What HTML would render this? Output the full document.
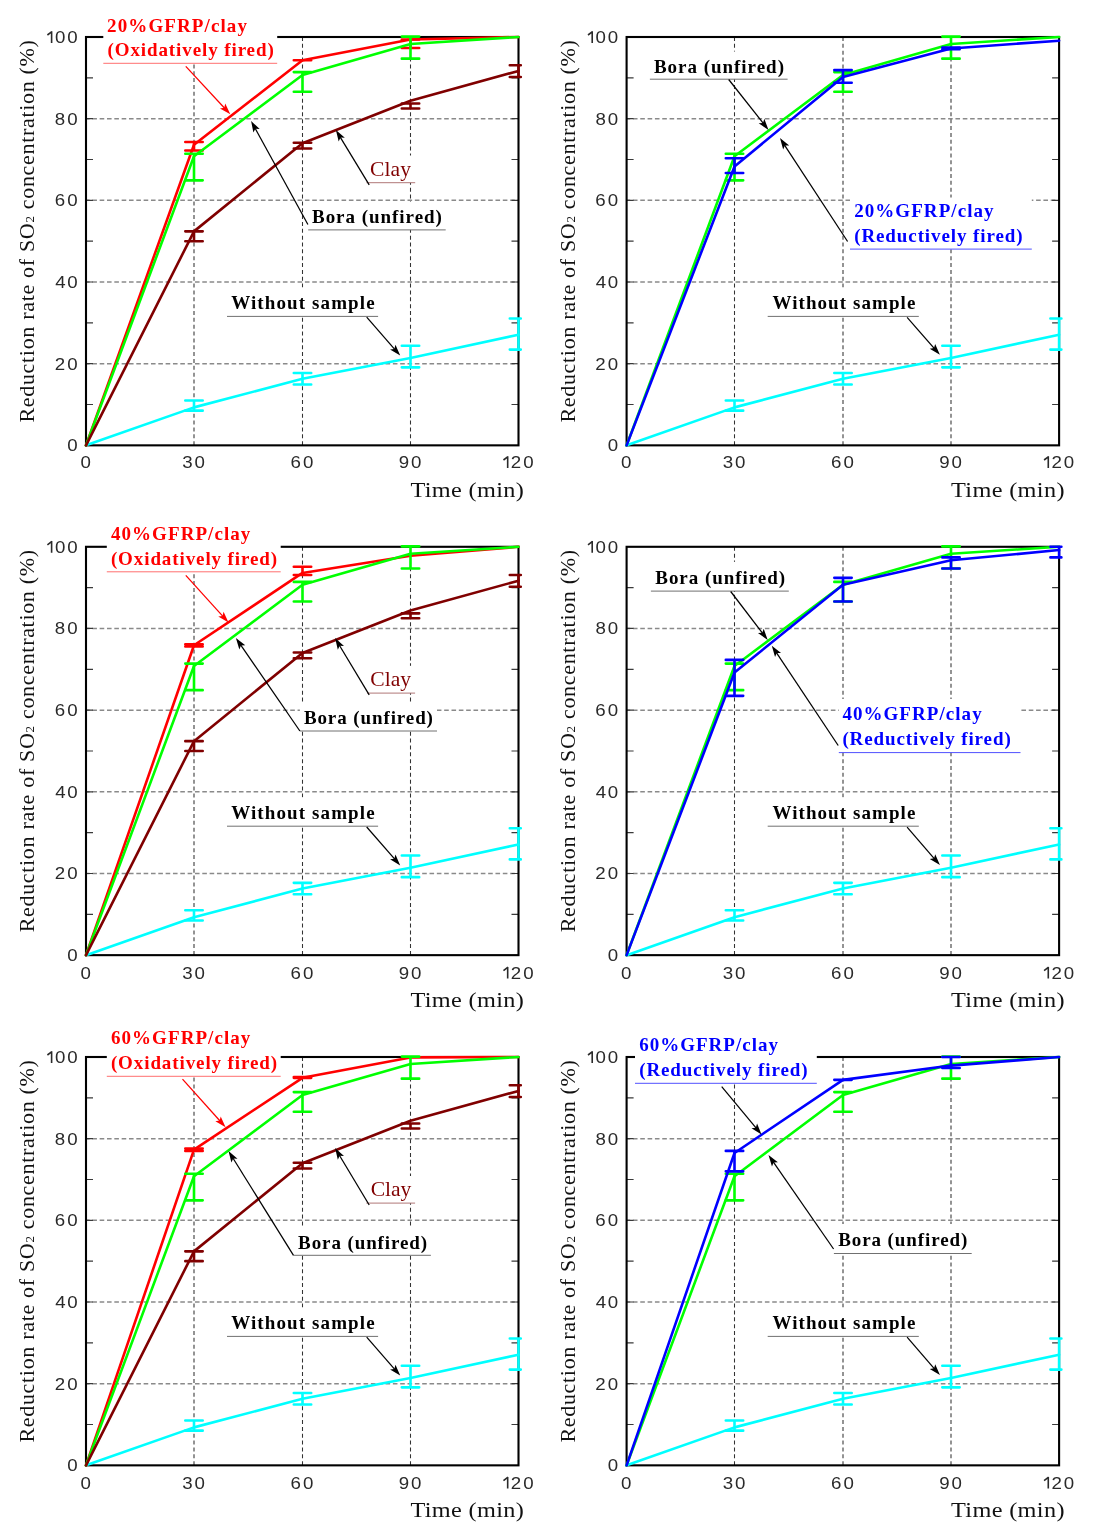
<!DOCTYPE html><html><head><meta charset="utf-8"><title>SO2 reduction</title><style>html,body{margin:0;padding:0;background:#fff;overflow:hidden;}svg{display:block;filter:blur(0.4px);}</style></head><body>
<svg width="1097" height="1532" viewBox="0 0 1097 1532">
<rect width="1097" height="1532" fill="#fff"/>
<line x1="86" y1="363.68" x2="518.5" y2="363.68" stroke="#8a8a8a" stroke-width="1.5" stroke-dasharray="4.6 2.73" stroke-dashoffset="1"/><line x1="86" y1="282.01" x2="518.5" y2="282.01" stroke="#8a8a8a" stroke-width="1.5" stroke-dasharray="4.6 2.73" stroke-dashoffset="1"/><line x1="86" y1="200.34" x2="518.5" y2="200.34" stroke="#8a8a8a" stroke-width="1.5" stroke-dasharray="4.6 2.73" stroke-dashoffset="1"/><line x1="86" y1="118.67" x2="518.5" y2="118.67" stroke="#8a8a8a" stroke-width="1.5" stroke-dasharray="4.6 2.73" stroke-dashoffset="1"/><line x1="194" y1="37" x2="194" y2="445.35" stroke="#333" stroke-width="1.05" stroke-dasharray="4.0 2.85"/><line x1="302.5" y1="37" x2="302.5" y2="445.35" stroke="#333" stroke-width="1.05" stroke-dasharray="4.0 2.85"/><line x1="410.5" y1="37" x2="410.5" y2="445.35" stroke="#333" stroke-width="1.05" stroke-dasharray="4.0 2.85"/>
<path d="M86 404.52h7M518.5 404.52h-7M86 363.68h7M518.5 363.68h-7M86 322.85h7M518.5 322.85h-7M86 282.01h7M518.5 282.01h-7M86 241.18h7M518.5 241.18h-7M86 200.34h7M518.5 200.34h-7M86 159.51h7M518.5 159.51h-7M86 118.67h7M518.5 118.67h-7M86 77.84h7M518.5 77.84h-7" stroke="#3a3a3a" stroke-width="1.2" fill="none"/>
<rect x="86" y="37" width="432.5" height="408.35" fill="none" stroke="#000" stroke-width="2.1"/>
<text transform="translate(67.13 451.35) scale(1.1 1)" font-family="Liberation Sans" font-size="17.0" fill="#2a2a2a">0</text>
<text transform="translate(54.72 369.68) scale(1.1 1)" font-family="Liberation Sans" font-size="17.0" fill="#2a2a2a">2</text><text transform="translate(67.13 369.68) scale(1.1 1)" font-family="Liberation Sans" font-size="17.0" fill="#2a2a2a">0</text>
<text transform="translate(55.23 288.01) scale(1.1 1)" font-family="Liberation Sans" font-size="17.0" fill="#2a2a2a">4</text><text transform="translate(67.13 288.01) scale(1.1 1)" font-family="Liberation Sans" font-size="17.0" fill="#2a2a2a">0</text>
<text transform="translate(54.71 206.34) scale(1.1 1)" font-family="Liberation Sans" font-size="17.0" fill="#2a2a2a">6</text><text transform="translate(67.13 206.34) scale(1.1 1)" font-family="Liberation Sans" font-size="17.0" fill="#2a2a2a">0</text>
<text transform="translate(54.85 124.67) scale(1.1 1)" font-family="Liberation Sans" font-size="17.0" fill="#2a2a2a">8</text><text transform="translate(67.13 124.67) scale(1.1 1)" font-family="Liberation Sans" font-size="17.0" fill="#2a2a2a">0</text>
<path d="M51.61 31.3V43M51.91 31.6L47.41 35" stroke="#2a2a2a" stroke-width="1.6" fill="none"/><text transform="translate(54.93 43) scale(1.1 1)" font-family="Liberation Sans" font-size="17.0" fill="#2a2a2a">0</text><text transform="translate(67.13 43) scale(1.1 1)" font-family="Liberation Sans" font-size="17.0" fill="#2a2a2a">0</text>
<text transform="translate(80.4 468) scale(1.1 1)" font-family="Liberation Sans" font-size="17.0" fill="#2a2a2a">0</text>
<text transform="translate(182.32 468) scale(1.1 1)" font-family="Liberation Sans" font-size="17.0" fill="#2a2a2a">3</text><text transform="translate(194.5 468) scale(1.1 1)" font-family="Liberation Sans" font-size="17.0" fill="#2a2a2a">0</text>
<text transform="translate(290.58 468) scale(1.1 1)" font-family="Liberation Sans" font-size="17.0" fill="#2a2a2a">6</text><text transform="translate(303 468) scale(1.1 1)" font-family="Liberation Sans" font-size="17.0" fill="#2a2a2a">0</text>
<text transform="translate(398.65 468) scale(1.1 1)" font-family="Liberation Sans" font-size="17.0" fill="#2a2a2a">9</text><text transform="translate(411 468) scale(1.1 1)" font-family="Liberation Sans" font-size="17.0" fill="#2a2a2a">0</text>
<path d="M507.68 456.3V468M507.98 456.6L503.48 460" stroke="#2a2a2a" stroke-width="1.6" fill="none"/><text transform="translate(510.79 468) scale(1.1 1)" font-family="Liberation Sans" font-size="17.0" fill="#2a2a2a">2</text><text transform="translate(523.2 468) scale(1.1 1)" font-family="Liberation Sans" font-size="17.0" fill="#2a2a2a">0</text>
<text transform="translate(410.4 496.6) scale(1.12 1)" font-family="Liberation Serif" font-size="21.7" letter-spacing="0.31" fill="#111">Time (min)</text>
<text transform="translate(34 231) rotate(-90)" text-anchor="middle" font-family="Liberation Serif" font-size="22" letter-spacing="0.68" fill="#111">Reduction rate of SO<tspan font-size="13">2</tspan> concentration (%)</text>
<rect x="103.3" y="10" width="173.9" height="53.3" fill="#fff"/>
<rect x="366.5" y="155.5" width="48.7" height="27.2" fill="#fff"/>
<rect x="308.2" y="202" width="137.5" height="27.9" fill="#fff"/>
<rect x="227" y="287.5" width="151.1" height="28.9" fill="#fff"/>
<path d="M185.3 400.43H202.7M185.3 410.64H202.7M194 400.43V410.64M293.8 373.07H311.2M293.8 384.51H311.2M302.5 373.07V384.51M401.8 345.71H419.2M401.8 367.36H419.2M410.5 345.71V367.36M509.8 318.52H520.8M509.8 349.59H520.8M518.5 318.52V349.59" stroke="#00ffff" stroke-width="2.6" stroke-linecap="round" fill="none"/>
<polyline points="86,445.35 194,407.37 302.5,378.79 410.5,357.96 518.5,334.69" stroke="#00ffff" stroke-width="2.6" fill="none" stroke-linejoin="round" stroke-linecap="round"/>
<path d="M185.3 141.95H202.7M185.3 150.52H202.7M194 141.95V150.52M293.8 60.28H311.2M293.8 60.28H311.2M302.5 60.28V60.28M401.8 39.45H419.2M401.8 48.03H419.2M410.5 39.45V48.03" stroke="#ff0000" stroke-width="2.6" stroke-linecap="round" fill="none"/>
<polyline points="86,445.35 194,144.8 302.5,60.28 410.5,39.45 518.5,37" stroke="#ff0000" stroke-width="2.6" fill="none" stroke-linejoin="round" stroke-linecap="round"/>
<path d="M185.3 153.79H202.7M185.3 180.33H202.7M194 153.79V180.33M293.8 72.12H311.2M293.8 91.72H311.2M302.5 72.12V91.72M401.8 36.59H419.2M401.8 58.64H419.2M410.5 36.59V58.64" stroke="#00ff00" stroke-width="2.6" stroke-linecap="round" fill="none"/>
<polyline points="86,445.35 194,156.24 302.5,74.98 410.5,43.94 518.5,37" stroke="#00ff00" stroke-width="2.6" fill="none" stroke-linejoin="round" stroke-linecap="round"/>
<path d="M185.3 231.37H202.7M185.3 241.18H202.7M194 231.37V241.18M293.8 142.76H311.2M293.8 148.48H311.2M302.5 142.76V148.48M401.8 103.56H419.2M401.8 108.46H419.2M410.5 103.56V108.46M509.8 65.18H520.8M509.8 77.02H520.8M518.5 65.18V77.02" stroke="#800000" stroke-width="2.6" stroke-linecap="round" fill="none"/>
<polyline points="86,445.35 194,231.37 302.5,143.17 410.5,100.7 518.5,70.89" stroke="#800000" stroke-width="2.6" fill="none" stroke-linejoin="round" stroke-linecap="round"/>
<text x="107.1" y="31.6" font-family="Liberation Serif" font-weight="bold" font-size="19" letter-spacing="1.1" fill="#ff0000">20%GFRP/clay</text>
<text x="107.5" y="56.4" font-family="Liberation Serif" font-weight="bold" font-size="19" letter-spacing="0.9" fill="#ff0000">(Oxidatively fired)</text>
<line x1="103.3" y1="63.3" x2="277.2" y2="63.3" stroke="#ff7070" stroke-width="1"/>
<text transform="translate(370.1 175.8) scale(1.08 1)" font-family="Liberation Serif" font-size="20" letter-spacing="0.06" fill="#800000">Clay</text>
<line x1="366.5" y1="182.7" x2="415.2" y2="182.7" stroke="#b07878" stroke-width="1"/>
<text x="312" y="222.8" font-family="Liberation Serif" font-weight="bold" font-size="19" letter-spacing="0.97" fill="#000">Bora (unfired)</text>
<line x1="308.2" y1="229.9" x2="445.7" y2="229.9" stroke="#707070" stroke-width="1"/>
<text x="231.2" y="309.1" font-family="Liberation Serif" font-weight="bold" font-size="19" letter-spacing="1.11" fill="#000">Without sample</text>
<line x1="227" y1="316.4" x2="378.1" y2="316.4" stroke="#707070" stroke-width="1"/>
<line x1="185.8" y1="66.4" x2="224.65" y2="108.22" stroke="#ff0000" stroke-width="1.25"/><polygon points="230.3,114.3 219.97,108.47 224.24,107.78 225.25,103.57" fill="#ff0000"/>
<line x1="369.2" y1="184.9" x2="340.2" y2="137.1" stroke="#000" stroke-width="1.25"/><polygon points="335.9,130 344.84,137.79 340.52,137.61 338.68,141.53" fill="#000"/>
<line x1="307.9" y1="224.5" x2="255.09" y2="128.18" stroke="#000" stroke-width="1.25"/><polygon points="251.1,120.9 259.69,129.08 255.38,128.7 253.38,132.54" fill="#000"/>
<line x1="366.7" y1="317.2" x2="394.74" y2="349.35" stroke="#000" stroke-width="1.25"/><polygon points="400.2,355.6 390.06,349.45 394.35,348.89 395.48,344.72" fill="#000"/>
<line x1="626.6" y1="363.68" x2="1059.1" y2="363.68" stroke="#8a8a8a" stroke-width="1.5" stroke-dasharray="4.6 2.73" stroke-dashoffset="1"/><line x1="626.6" y1="282.01" x2="1059.1" y2="282.01" stroke="#8a8a8a" stroke-width="1.5" stroke-dasharray="4.6 2.73" stroke-dashoffset="1"/><line x1="626.6" y1="200.34" x2="1059.1" y2="200.34" stroke="#8a8a8a" stroke-width="1.5" stroke-dasharray="4.6 2.73" stroke-dashoffset="1"/><line x1="626.6" y1="118.67" x2="1059.1" y2="118.67" stroke="#8a8a8a" stroke-width="1.5" stroke-dasharray="4.6 2.73" stroke-dashoffset="1"/><line x1="734.5" y1="37" x2="734.5" y2="445.35" stroke="#333" stroke-width="1.05" stroke-dasharray="4.0 2.85"/><line x1="843" y1="37" x2="843" y2="445.35" stroke="#333" stroke-width="1.05" stroke-dasharray="4.0 2.85"/><line x1="951" y1="37" x2="951" y2="445.35" stroke="#333" stroke-width="1.05" stroke-dasharray="4.0 2.85"/>
<path d="M626.6 404.52h7M1059.1 404.52h-7M626.6 363.68h7M1059.1 363.68h-7M626.6 322.85h7M1059.1 322.85h-7M626.6 282.01h7M1059.1 282.01h-7M626.6 241.18h7M1059.1 241.18h-7M626.6 200.34h7M1059.1 200.34h-7M626.6 159.51h7M1059.1 159.51h-7M626.6 118.67h7M1059.1 118.67h-7M626.6 77.84h7M1059.1 77.84h-7" stroke="#3a3a3a" stroke-width="1.2" fill="none"/>
<rect x="626.6" y="37" width="432.5" height="408.35" fill="none" stroke="#000" stroke-width="2.1"/>
<text transform="translate(607.73 451.35) scale(1.1 1)" font-family="Liberation Sans" font-size="17.0" fill="#2a2a2a">0</text>
<text transform="translate(595.32 369.68) scale(1.1 1)" font-family="Liberation Sans" font-size="17.0" fill="#2a2a2a">2</text><text transform="translate(607.73 369.68) scale(1.1 1)" font-family="Liberation Sans" font-size="17.0" fill="#2a2a2a">0</text>
<text transform="translate(595.83 288.01) scale(1.1 1)" font-family="Liberation Sans" font-size="17.0" fill="#2a2a2a">4</text><text transform="translate(607.73 288.01) scale(1.1 1)" font-family="Liberation Sans" font-size="17.0" fill="#2a2a2a">0</text>
<text transform="translate(595.31 206.34) scale(1.1 1)" font-family="Liberation Sans" font-size="17.0" fill="#2a2a2a">6</text><text transform="translate(607.73 206.34) scale(1.1 1)" font-family="Liberation Sans" font-size="17.0" fill="#2a2a2a">0</text>
<text transform="translate(595.45 124.67) scale(1.1 1)" font-family="Liberation Sans" font-size="17.0" fill="#2a2a2a">8</text><text transform="translate(607.73 124.67) scale(1.1 1)" font-family="Liberation Sans" font-size="17.0" fill="#2a2a2a">0</text>
<path d="M592.21 31.3V43M592.51 31.6L588.01 35" stroke="#2a2a2a" stroke-width="1.6" fill="none"/><text transform="translate(595.53 43) scale(1.1 1)" font-family="Liberation Sans" font-size="17.0" fill="#2a2a2a">0</text><text transform="translate(607.73 43) scale(1.1 1)" font-family="Liberation Sans" font-size="17.0" fill="#2a2a2a">0</text>
<text transform="translate(621 468) scale(1.1 1)" font-family="Liberation Sans" font-size="17.0" fill="#2a2a2a">0</text>
<text transform="translate(722.82 468) scale(1.1 1)" font-family="Liberation Sans" font-size="17.0" fill="#2a2a2a">3</text><text transform="translate(735 468) scale(1.1 1)" font-family="Liberation Sans" font-size="17.0" fill="#2a2a2a">0</text>
<text transform="translate(831.08 468) scale(1.1 1)" font-family="Liberation Sans" font-size="17.0" fill="#2a2a2a">6</text><text transform="translate(843.5 468) scale(1.1 1)" font-family="Liberation Sans" font-size="17.0" fill="#2a2a2a">0</text>
<text transform="translate(939.15 468) scale(1.1 1)" font-family="Liberation Sans" font-size="17.0" fill="#2a2a2a">9</text><text transform="translate(951.5 468) scale(1.1 1)" font-family="Liberation Sans" font-size="17.0" fill="#2a2a2a">0</text>
<path d="M1048.28 456.3V468M1048.58 456.6L1044.08 460" stroke="#2a2a2a" stroke-width="1.6" fill="none"/><text transform="translate(1051.39 468) scale(1.1 1)" font-family="Liberation Sans" font-size="17.0" fill="#2a2a2a">2</text><text transform="translate(1063.8 468) scale(1.1 1)" font-family="Liberation Sans" font-size="17.0" fill="#2a2a2a">0</text>
<text transform="translate(951 496.6) scale(1.12 1)" font-family="Liberation Serif" font-size="21.7" letter-spacing="0.31" fill="#111">Time (min)</text>
<text transform="translate(574.6 231) rotate(-90)" text-anchor="middle" font-family="Liberation Serif" font-size="22" letter-spacing="0.68" fill="#111">Reduction rate of SO<tspan font-size="13">2</tspan> concentration (%)</text>
<rect x="649.9" y="51.5" width="137.7" height="27.7" fill="#fff"/>
<rect x="850" y="197.5" width="181.8" height="51.6" fill="#fff"/>
<rect x="767.7" y="287.5" width="151.1" height="28.9" fill="#fff"/>
<path d="M725.8 400.43H743.2M725.8 410.64H743.2M734.5 400.43V410.64M834.3 373.07H851.7M834.3 384.51H851.7M843 373.07V384.51M942.3 345.71H959.7M942.3 367.36H959.7M951 345.71V367.36M1050.4 318.52H1061.4M1050.4 349.59H1061.4M1059.1 318.52V349.59" stroke="#00ffff" stroke-width="2.6" stroke-linecap="round" fill="none"/>
<polyline points="626.6,445.35 734.5,407.37 843,378.79 951,357.96 1059.1,334.69" stroke="#00ffff" stroke-width="2.6" fill="none" stroke-linejoin="round" stroke-linecap="round"/>
<path d="M725.8 153.79H743.2M725.8 180.33H743.2M734.5 153.79V180.33M834.3 72.12H851.7M834.3 91.72H851.7M843 72.12V91.72M942.3 36.59H959.7M942.3 58.64H959.7M951 36.59V58.64" stroke="#00ff00" stroke-width="2.6" stroke-linecap="round" fill="none"/>
<polyline points="626.6,445.35 734.5,156.24 843,74.98 951,43.94 1059.1,37" stroke="#00ff00" stroke-width="2.6" fill="none" stroke-linejoin="round" stroke-linecap="round"/>
<path d="M725.8 158.28H743.2M725.8 172.98H743.2M734.5 158.28V172.98M834.3 70.08H851.7M834.3 82.74H851.7M843 70.08V82.74M942.3 47.62H959.7M942.3 49.25H959.7M951 47.62V49.25" stroke="#0000ff" stroke-width="2.6" stroke-linecap="round" fill="none"/>
<polyline points="626.6,445.35 734.5,166.45 843,77.02 951,48.43 1059.1,40.68" stroke="#0000ff" stroke-width="2.6" fill="none" stroke-linejoin="round" stroke-linecap="round"/>
<text x="653.9" y="72.6" font-family="Liberation Serif" font-weight="bold" font-size="19" letter-spacing="0.98" fill="#000">Bora (unfired)</text>
<line x1="649.9" y1="79.2" x2="787.6" y2="79.2" stroke="#707070" stroke-width="1"/>
<text x="854.2" y="217.2" font-family="Liberation Serif" font-weight="bold" font-size="19" letter-spacing="1.06" fill="#0000ff">20%GFRP/clay</text>
<text x="854.2" y="241.6" font-family="Liberation Serif" font-weight="bold" font-size="19" letter-spacing="0.9" fill="#0000ff">(Reductively fired)</text>
<line x1="850" y1="249.1" x2="1031.8" y2="249.1" stroke="#5050ff" stroke-width="1"/>
<text x="772.4" y="309.1" font-family="Liberation Serif" font-weight="bold" font-size="19" letter-spacing="1.08" fill="#000">Without sample</text>
<line x1="767.7" y1="316.4" x2="918.8" y2="316.4" stroke="#707070" stroke-width="1"/>
<line x1="728.7" y1="79.5" x2="763.36" y2="123.39" stroke="#000" stroke-width="1.25"/><polygon points="768.5,129.9 758.67,123.26 762.98,122.92 764.32,118.8" fill="#000"/>
<line x1="847.6" y1="241.5" x2="784.54" y2="145.05" stroke="#000" stroke-width="1.25"/><polygon points="780,138.1 789.2,145.59 784.87,145.55 783.17,149.53" fill="#000"/>
<line x1="907.1" y1="317.4" x2="934.43" y2="348.56" stroke="#000" stroke-width="1.25"/><polygon points="939.9,354.8 929.74,348.68 934.03,348.11 935.16,343.93" fill="#000"/>
<line x1="86" y1="873.48" x2="518.5" y2="873.48" stroke="#8a8a8a" stroke-width="1.5" stroke-dasharray="4.6 2.73" stroke-dashoffset="1"/><line x1="86" y1="791.81" x2="518.5" y2="791.81" stroke="#8a8a8a" stroke-width="1.5" stroke-dasharray="4.6 2.73" stroke-dashoffset="1"/><line x1="86" y1="710.14" x2="518.5" y2="710.14" stroke="#8a8a8a" stroke-width="1.5" stroke-dasharray="4.6 2.73" stroke-dashoffset="1"/><line x1="86" y1="628.47" x2="518.5" y2="628.47" stroke="#8a8a8a" stroke-width="1.5" stroke-dasharray="4.6 2.73" stroke-dashoffset="1"/><line x1="194" y1="546.8" x2="194" y2="955.15" stroke="#333" stroke-width="1.05" stroke-dasharray="4.0 2.85"/><line x1="302.5" y1="546.8" x2="302.5" y2="955.15" stroke="#333" stroke-width="1.05" stroke-dasharray="4.0 2.85"/><line x1="410.5" y1="546.8" x2="410.5" y2="955.15" stroke="#333" stroke-width="1.05" stroke-dasharray="4.0 2.85"/>
<path d="M86 914.32h7M518.5 914.32h-7M86 873.48h7M518.5 873.48h-7M86 832.65h7M518.5 832.65h-7M86 791.81h7M518.5 791.81h-7M86 750.98h7M518.5 750.98h-7M86 710.14h7M518.5 710.14h-7M86 669.31h7M518.5 669.31h-7M86 628.47h7M518.5 628.47h-7M86 587.64h7M518.5 587.64h-7" stroke="#3a3a3a" stroke-width="1.2" fill="none"/>
<rect x="86" y="546.8" width="432.5" height="408.35" fill="none" stroke="#000" stroke-width="2.1"/>
<text transform="translate(67.13 961.15) scale(1.1 1)" font-family="Liberation Sans" font-size="17.0" fill="#2a2a2a">0</text>
<text transform="translate(54.72 879.48) scale(1.1 1)" font-family="Liberation Sans" font-size="17.0" fill="#2a2a2a">2</text><text transform="translate(67.13 879.48) scale(1.1 1)" font-family="Liberation Sans" font-size="17.0" fill="#2a2a2a">0</text>
<text transform="translate(55.23 797.81) scale(1.1 1)" font-family="Liberation Sans" font-size="17.0" fill="#2a2a2a">4</text><text transform="translate(67.13 797.81) scale(1.1 1)" font-family="Liberation Sans" font-size="17.0" fill="#2a2a2a">0</text>
<text transform="translate(54.71 716.14) scale(1.1 1)" font-family="Liberation Sans" font-size="17.0" fill="#2a2a2a">6</text><text transform="translate(67.13 716.14) scale(1.1 1)" font-family="Liberation Sans" font-size="17.0" fill="#2a2a2a">0</text>
<text transform="translate(54.85 634.47) scale(1.1 1)" font-family="Liberation Sans" font-size="17.0" fill="#2a2a2a">8</text><text transform="translate(67.13 634.47) scale(1.1 1)" font-family="Liberation Sans" font-size="17.0" fill="#2a2a2a">0</text>
<path d="M51.61 541.1V552.8M51.91 541.4L47.41 544.8" stroke="#2a2a2a" stroke-width="1.6" fill="none"/><text transform="translate(54.93 552.8) scale(1.1 1)" font-family="Liberation Sans" font-size="17.0" fill="#2a2a2a">0</text><text transform="translate(67.13 552.8) scale(1.1 1)" font-family="Liberation Sans" font-size="17.0" fill="#2a2a2a">0</text>
<text transform="translate(80.4 978.6) scale(1.1 1)" font-family="Liberation Sans" font-size="17.0" fill="#2a2a2a">0</text>
<text transform="translate(182.32 978.6) scale(1.1 1)" font-family="Liberation Sans" font-size="17.0" fill="#2a2a2a">3</text><text transform="translate(194.5 978.6) scale(1.1 1)" font-family="Liberation Sans" font-size="17.0" fill="#2a2a2a">0</text>
<text transform="translate(290.58 978.6) scale(1.1 1)" font-family="Liberation Sans" font-size="17.0" fill="#2a2a2a">6</text><text transform="translate(303 978.6) scale(1.1 1)" font-family="Liberation Sans" font-size="17.0" fill="#2a2a2a">0</text>
<text transform="translate(398.65 978.6) scale(1.1 1)" font-family="Liberation Sans" font-size="17.0" fill="#2a2a2a">9</text><text transform="translate(411 978.6) scale(1.1 1)" font-family="Liberation Sans" font-size="17.0" fill="#2a2a2a">0</text>
<path d="M507.68 966.9V978.6M507.98 967.2L503.48 970.6" stroke="#2a2a2a" stroke-width="1.6" fill="none"/><text transform="translate(510.79 978.6) scale(1.1 1)" font-family="Liberation Sans" font-size="17.0" fill="#2a2a2a">2</text><text transform="translate(523.2 978.6) scale(1.1 1)" font-family="Liberation Sans" font-size="17.0" fill="#2a2a2a">0</text>
<text transform="translate(410.4 1007) scale(1.12 1)" font-family="Liberation Serif" font-size="21.7" letter-spacing="0.31" fill="#111">Time (min)</text>
<text transform="translate(34 740.8) rotate(-90)" text-anchor="middle" font-family="Liberation Serif" font-size="22" letter-spacing="0.68" fill="#111">Reduction rate of SO<tspan font-size="13">2</tspan> concentration (%)</text>
<rect x="106.8" y="518" width="173.9" height="53.8" fill="#fff"/>
<rect x="367" y="665.8" width="48.1" height="27.3" fill="#fff"/>
<rect x="299.9" y="703" width="137.1" height="28" fill="#fff"/>
<rect x="227" y="797.3" width="151.1" height="28.9" fill="#fff"/>
<path d="M185.3 910.23H202.7M185.3 920.44H202.7M194 910.23V920.44M293.8 882.87H311.2M293.8 894.31H311.2M302.5 882.87V894.31M401.8 855.51H419.2M401.8 877.16H419.2M410.5 855.51V877.16M509.8 828.32H520.8M509.8 859.39H520.8M518.5 828.32V859.39" stroke="#00ffff" stroke-width="2.6" stroke-linecap="round" fill="none"/>
<polyline points="86,955.15 194,917.17 302.5,888.59 410.5,867.76 518.5,844.49" stroke="#00ffff" stroke-width="2.6" fill="none" stroke-linejoin="round" stroke-linecap="round"/>
<path d="M185.3 644.4H202.7M185.3 646.44H202.7M194 644.4V646.44M293.8 566.81H311.2M293.8 574.98H311.2M302.5 566.81V574.98" stroke="#ff0000" stroke-width="2.6" stroke-linecap="round" fill="none"/>
<polyline points="86,955.15 194,645.21 302.5,572.93 410.5,555.78 518.5,546.8" stroke="#ff0000" stroke-width="2.6" fill="none" stroke-linejoin="round" stroke-linecap="round"/>
<path d="M185.3 663.59H202.7M185.3 690.13H202.7M194 663.59V690.13M293.8 581.92H311.2M293.8 601.52H311.2M302.5 581.92V601.52M401.8 546.39H419.2M401.8 568.44H419.2M410.5 546.39V568.44" stroke="#00ff00" stroke-width="2.6" stroke-linecap="round" fill="none"/>
<polyline points="86,955.15 194,666.04 302.5,584.78 410.5,553.74 518.5,546.8" stroke="#00ff00" stroke-width="2.6" fill="none" stroke-linejoin="round" stroke-linecap="round"/>
<path d="M185.3 741.17H202.7M185.3 750.98H202.7M194 741.17V750.98M293.8 652.56H311.2M293.8 658.28H311.2M302.5 652.56V658.28M401.8 613.36H419.2M401.8 618.26H419.2M410.5 613.36V618.26M509.8 574.98H520.8M509.8 586.82H520.8M518.5 574.98V586.82" stroke="#800000" stroke-width="2.6" stroke-linecap="round" fill="none"/>
<polyline points="86,955.15 194,741.17 302.5,652.97 410.5,610.5 518.5,580.69" stroke="#800000" stroke-width="2.6" fill="none" stroke-linejoin="round" stroke-linecap="round"/>
<text x="110.9" y="539.6" font-family="Liberation Serif" font-weight="bold" font-size="19" letter-spacing="1.07" fill="#ff0000">40%GFRP/clay</text>
<text x="110.9" y="564.9" font-family="Liberation Serif" font-weight="bold" font-size="19" letter-spacing="0.9" fill="#ff0000">(Oxidatively fired)</text>
<line x1="106.8" y1="571.8" x2="280.7" y2="571.8" stroke="#ff7070" stroke-width="1"/>
<text transform="translate(370.2 686.3) scale(1.08 1)" font-family="Liberation Serif" font-size="20" letter-spacing="0.03" fill="#800000">Clay</text>
<line x1="367" y1="693.1" x2="415.1" y2="693.1" stroke="#b07878" stroke-width="1"/>
<text x="303.9" y="723.7" font-family="Liberation Serif" font-weight="bold" font-size="19" letter-spacing="0.9" fill="#000">Bora (unfired)</text>
<line x1="299.9" y1="731" x2="437" y2="731" stroke="#707070" stroke-width="1"/>
<text x="231.2" y="818.9" font-family="Liberation Serif" font-weight="bold" font-size="19" letter-spacing="1.11" fill="#000">Without sample</text>
<line x1="227" y1="826.2" x2="378.1" y2="826.2" stroke="#707070" stroke-width="1"/>
<line x1="185.8" y1="575.4" x2="222.93" y2="616.35" stroke="#ff0000" stroke-width="1.25"/><polygon points="228.5,622.5 218.24,616.55 222.52,615.91 223.58,611.71" fill="#ff0000"/>
<line x1="369.2" y1="694.9" x2="339.37" y2="645.22" stroke="#000" stroke-width="1.25"/><polygon points="335.1,638.1 344,645.94 339.68,645.73 337.83,649.64" fill="#000"/>
<line x1="299.9" y1="731" x2="240.61" y2="644.94" stroke="#000" stroke-width="1.25"/><polygon points="235.9,638.1 245.28,645.36 240.95,645.43 239.35,649.45" fill="#000"/>
<line x1="366.7" y1="827" x2="394.74" y2="859.15" stroke="#000" stroke-width="1.25"/><polygon points="400.2,865.4 390.06,859.25 394.35,858.69 395.48,854.52" fill="#000"/>
<line x1="626.6" y1="873.48" x2="1059.1" y2="873.48" stroke="#8a8a8a" stroke-width="1.5" stroke-dasharray="4.6 2.73" stroke-dashoffset="1"/><line x1="626.6" y1="791.81" x2="1059.1" y2="791.81" stroke="#8a8a8a" stroke-width="1.5" stroke-dasharray="4.6 2.73" stroke-dashoffset="1"/><line x1="626.6" y1="710.14" x2="1059.1" y2="710.14" stroke="#8a8a8a" stroke-width="1.5" stroke-dasharray="4.6 2.73" stroke-dashoffset="1"/><line x1="626.6" y1="628.47" x2="1059.1" y2="628.47" stroke="#8a8a8a" stroke-width="1.5" stroke-dasharray="4.6 2.73" stroke-dashoffset="1"/><line x1="734.5" y1="546.8" x2="734.5" y2="955.15" stroke="#333" stroke-width="1.05" stroke-dasharray="4.0 2.85"/><line x1="843" y1="546.8" x2="843" y2="955.15" stroke="#333" stroke-width="1.05" stroke-dasharray="4.0 2.85"/><line x1="951" y1="546.8" x2="951" y2="955.15" stroke="#333" stroke-width="1.05" stroke-dasharray="4.0 2.85"/>
<path d="M626.6 914.32h7M1059.1 914.32h-7M626.6 873.48h7M1059.1 873.48h-7M626.6 832.65h7M1059.1 832.65h-7M626.6 791.81h7M1059.1 791.81h-7M626.6 750.98h7M1059.1 750.98h-7M626.6 710.14h7M1059.1 710.14h-7M626.6 669.31h7M1059.1 669.31h-7M626.6 628.47h7M1059.1 628.47h-7M626.6 587.64h7M1059.1 587.64h-7" stroke="#3a3a3a" stroke-width="1.2" fill="none"/>
<rect x="626.6" y="546.8" width="432.5" height="408.35" fill="none" stroke="#000" stroke-width="2.1"/>
<text transform="translate(607.73 961.15) scale(1.1 1)" font-family="Liberation Sans" font-size="17.0" fill="#2a2a2a">0</text>
<text transform="translate(595.32 879.48) scale(1.1 1)" font-family="Liberation Sans" font-size="17.0" fill="#2a2a2a">2</text><text transform="translate(607.73 879.48) scale(1.1 1)" font-family="Liberation Sans" font-size="17.0" fill="#2a2a2a">0</text>
<text transform="translate(595.83 797.81) scale(1.1 1)" font-family="Liberation Sans" font-size="17.0" fill="#2a2a2a">4</text><text transform="translate(607.73 797.81) scale(1.1 1)" font-family="Liberation Sans" font-size="17.0" fill="#2a2a2a">0</text>
<text transform="translate(595.31 716.14) scale(1.1 1)" font-family="Liberation Sans" font-size="17.0" fill="#2a2a2a">6</text><text transform="translate(607.73 716.14) scale(1.1 1)" font-family="Liberation Sans" font-size="17.0" fill="#2a2a2a">0</text>
<text transform="translate(595.45 634.47) scale(1.1 1)" font-family="Liberation Sans" font-size="17.0" fill="#2a2a2a">8</text><text transform="translate(607.73 634.47) scale(1.1 1)" font-family="Liberation Sans" font-size="17.0" fill="#2a2a2a">0</text>
<path d="M592.21 541.1V552.8M592.51 541.4L588.01 544.8" stroke="#2a2a2a" stroke-width="1.6" fill="none"/><text transform="translate(595.53 552.8) scale(1.1 1)" font-family="Liberation Sans" font-size="17.0" fill="#2a2a2a">0</text><text transform="translate(607.73 552.8) scale(1.1 1)" font-family="Liberation Sans" font-size="17.0" fill="#2a2a2a">0</text>
<text transform="translate(621 978.6) scale(1.1 1)" font-family="Liberation Sans" font-size="17.0" fill="#2a2a2a">0</text>
<text transform="translate(722.82 978.6) scale(1.1 1)" font-family="Liberation Sans" font-size="17.0" fill="#2a2a2a">3</text><text transform="translate(735 978.6) scale(1.1 1)" font-family="Liberation Sans" font-size="17.0" fill="#2a2a2a">0</text>
<text transform="translate(831.08 978.6) scale(1.1 1)" font-family="Liberation Sans" font-size="17.0" fill="#2a2a2a">6</text><text transform="translate(843.5 978.6) scale(1.1 1)" font-family="Liberation Sans" font-size="17.0" fill="#2a2a2a">0</text>
<text transform="translate(939.15 978.6) scale(1.1 1)" font-family="Liberation Sans" font-size="17.0" fill="#2a2a2a">9</text><text transform="translate(951.5 978.6) scale(1.1 1)" font-family="Liberation Sans" font-size="17.0" fill="#2a2a2a">0</text>
<path d="M1048.28 966.9V978.6M1048.58 967.2L1044.08 970.6" stroke="#2a2a2a" stroke-width="1.6" fill="none"/><text transform="translate(1051.39 978.6) scale(1.1 1)" font-family="Liberation Sans" font-size="17.0" fill="#2a2a2a">2</text><text transform="translate(1063.8 978.6) scale(1.1 1)" font-family="Liberation Sans" font-size="17.0" fill="#2a2a2a">0</text>
<text transform="translate(951 1007) scale(1.12 1)" font-family="Liberation Serif" font-size="21.7" letter-spacing="0.31" fill="#111">Time (min)</text>
<text transform="translate(574.6 740.8) rotate(-90)" text-anchor="middle" font-family="Liberation Serif" font-size="22" letter-spacing="0.68" fill="#111">Reduction rate of SO<tspan font-size="13">2</tspan> concentration (%)</text>
<rect x="650.9" y="561.8" width="137.9" height="29.3" fill="#fff"/>
<rect x="838.8" y="699" width="181.7" height="53.6" fill="#fff"/>
<rect x="767.7" y="797.3" width="151.1" height="28.9" fill="#fff"/>
<path d="M725.8 910.23H743.2M725.8 920.44H743.2M734.5 910.23V920.44M834.3 882.87H851.7M834.3 894.31H851.7M843 882.87V894.31M942.3 855.51H959.7M942.3 877.16H959.7M951 855.51V877.16M1050.4 828.32H1061.4M1050.4 859.39H1061.4M1059.1 828.32V859.39" stroke="#00ffff" stroke-width="2.6" stroke-linecap="round" fill="none"/>
<polyline points="626.6,955.15 734.5,917.17 843,888.59 951,867.76 1059.1,844.49" stroke="#00ffff" stroke-width="2.6" fill="none" stroke-linejoin="round" stroke-linecap="round"/>
<path d="M725.8 663.59H743.2M725.8 690.13H743.2M734.5 663.59V690.13M834.3 581.92H851.7M834.3 601.52H851.7M843 581.92V601.52M942.3 546.39H959.7M942.3 568.44H959.7M951 546.39V568.44" stroke="#00ff00" stroke-width="2.6" stroke-linecap="round" fill="none"/>
<polyline points="626.6,955.15 734.5,666.04 843,584.78 951,553.74 1059.1,546.8" stroke="#00ff00" stroke-width="2.6" fill="none" stroke-linejoin="round" stroke-linecap="round"/>
<path d="M725.8 659.91H743.2M725.8 695.85H743.2M734.5 659.91V695.85M834.3 577.83H851.7M834.3 601.52H851.7M843 577.83V601.52M942.3 557.42H959.7M942.3 568.44H959.7M951 557.42V568.44M1050.4 546.8H1061.4M1050.4 557.42H1061.4M1059.1 546.8V557.42" stroke="#0000ff" stroke-width="2.6" stroke-linecap="round" fill="none"/>
<polyline points="626.6,955.15 734.5,672.57 843,584.78 951,560.28 1059.1,550.07" stroke="#0000ff" stroke-width="2.6" fill="none" stroke-linejoin="round" stroke-linecap="round"/>
<text x="655.3" y="583.6" font-family="Liberation Serif" font-weight="bold" font-size="19" letter-spacing="0.95" fill="#000">Bora (unfired)</text>
<line x1="650.9" y1="591.1" x2="788.8" y2="591.1" stroke="#707070" stroke-width="1"/>
<text x="842.4" y="720.2" font-family="Liberation Serif" font-weight="bold" font-size="19" letter-spacing="1.05" fill="#0000ff">40%GFRP/clay</text>
<text x="842.4" y="744.6" font-family="Liberation Serif" font-weight="bold" font-size="19" letter-spacing="0.9" fill="#0000ff">(Reductively fired)</text>
<line x1="838.8" y1="752.6" x2="1020.5" y2="752.6" stroke="#5050ff" stroke-width="1"/>
<text x="772.4" y="818.9" font-family="Liberation Serif" font-weight="bold" font-size="19" letter-spacing="1.08" fill="#000">Without sample</text>
<line x1="767.7" y1="826.2" x2="918.8" y2="826.2" stroke="#707070" stroke-width="1"/>
<line x1="730.7" y1="591.5" x2="762.66" y2="633.31" stroke="#000" stroke-width="1.25"/><polygon points="767.7,639.9 757.98,633.11 762.29,632.83 763.7,628.74" fill="#000"/>
<line x1="838.2" y1="745.5" x2="776.4" y2="652.61" stroke="#000" stroke-width="1.25"/><polygon points="771.8,645.7 781.06,653.11 776.73,653.11 775.06,657.1" fill="#000"/>
<line x1="907.1" y1="827.2" x2="934.47" y2="858.82" stroke="#000" stroke-width="1.25"/><polygon points="939.9,865.1 929.78,858.91 934.08,858.37 935.23,854.2" fill="#000"/>
<line x1="86" y1="1383.68" x2="518.5" y2="1383.68" stroke="#8a8a8a" stroke-width="1.5" stroke-dasharray="4.6 2.73" stroke-dashoffset="1"/><line x1="86" y1="1302.01" x2="518.5" y2="1302.01" stroke="#8a8a8a" stroke-width="1.5" stroke-dasharray="4.6 2.73" stroke-dashoffset="1"/><line x1="86" y1="1220.34" x2="518.5" y2="1220.34" stroke="#8a8a8a" stroke-width="1.5" stroke-dasharray="4.6 2.73" stroke-dashoffset="1"/><line x1="86" y1="1138.67" x2="518.5" y2="1138.67" stroke="#8a8a8a" stroke-width="1.5" stroke-dasharray="4.6 2.73" stroke-dashoffset="1"/><line x1="194" y1="1057" x2="194" y2="1465.35" stroke="#333" stroke-width="1.05" stroke-dasharray="4.0 2.85"/><line x1="302.5" y1="1057" x2="302.5" y2="1465.35" stroke="#333" stroke-width="1.05" stroke-dasharray="4.0 2.85"/><line x1="410.5" y1="1057" x2="410.5" y2="1465.35" stroke="#333" stroke-width="1.05" stroke-dasharray="4.0 2.85"/>
<path d="M86 1424.51h7M518.5 1424.51h-7M86 1383.68h7M518.5 1383.68h-7M86 1342.84h7M518.5 1342.84h-7M86 1302.01h7M518.5 1302.01h-7M86 1261.17h7M518.5 1261.17h-7M86 1220.34h7M518.5 1220.34h-7M86 1179.5h7M518.5 1179.5h-7M86 1138.67h7M518.5 1138.67h-7M86 1097.84h7M518.5 1097.84h-7" stroke="#3a3a3a" stroke-width="1.2" fill="none"/>
<rect x="86" y="1057" width="432.5" height="408.35" fill="none" stroke="#000" stroke-width="2.1"/>
<text transform="translate(67.13 1471.35) scale(1.1 1)" font-family="Liberation Sans" font-size="17.0" fill="#2a2a2a">0</text>
<text transform="translate(54.72 1389.68) scale(1.1 1)" font-family="Liberation Sans" font-size="17.0" fill="#2a2a2a">2</text><text transform="translate(67.13 1389.68) scale(1.1 1)" font-family="Liberation Sans" font-size="17.0" fill="#2a2a2a">0</text>
<text transform="translate(55.23 1308.01) scale(1.1 1)" font-family="Liberation Sans" font-size="17.0" fill="#2a2a2a">4</text><text transform="translate(67.13 1308.01) scale(1.1 1)" font-family="Liberation Sans" font-size="17.0" fill="#2a2a2a">0</text>
<text transform="translate(54.71 1226.34) scale(1.1 1)" font-family="Liberation Sans" font-size="17.0" fill="#2a2a2a">6</text><text transform="translate(67.13 1226.34) scale(1.1 1)" font-family="Liberation Sans" font-size="17.0" fill="#2a2a2a">0</text>
<text transform="translate(54.85 1144.67) scale(1.1 1)" font-family="Liberation Sans" font-size="17.0" fill="#2a2a2a">8</text><text transform="translate(67.13 1144.67) scale(1.1 1)" font-family="Liberation Sans" font-size="17.0" fill="#2a2a2a">0</text>
<path d="M51.61 1051.3V1063M51.91 1051.6L47.41 1055" stroke="#2a2a2a" stroke-width="1.6" fill="none"/><text transform="translate(54.93 1063) scale(1.1 1)" font-family="Liberation Sans" font-size="17.0" fill="#2a2a2a">0</text><text transform="translate(67.13 1063) scale(1.1 1)" font-family="Liberation Sans" font-size="17.0" fill="#2a2a2a">0</text>
<text transform="translate(80.4 1488.6) scale(1.1 1)" font-family="Liberation Sans" font-size="17.0" fill="#2a2a2a">0</text>
<text transform="translate(182.32 1488.6) scale(1.1 1)" font-family="Liberation Sans" font-size="17.0" fill="#2a2a2a">3</text><text transform="translate(194.5 1488.6) scale(1.1 1)" font-family="Liberation Sans" font-size="17.0" fill="#2a2a2a">0</text>
<text transform="translate(290.58 1488.6) scale(1.1 1)" font-family="Liberation Sans" font-size="17.0" fill="#2a2a2a">6</text><text transform="translate(303 1488.6) scale(1.1 1)" font-family="Liberation Sans" font-size="17.0" fill="#2a2a2a">0</text>
<text transform="translate(398.65 1488.6) scale(1.1 1)" font-family="Liberation Sans" font-size="17.0" fill="#2a2a2a">9</text><text transform="translate(411 1488.6) scale(1.1 1)" font-family="Liberation Sans" font-size="17.0" fill="#2a2a2a">0</text>
<path d="M507.68 1476.9V1488.6M507.98 1477.2L503.48 1480.6" stroke="#2a2a2a" stroke-width="1.6" fill="none"/><text transform="translate(510.79 1488.6) scale(1.1 1)" font-family="Liberation Sans" font-size="17.0" fill="#2a2a2a">2</text><text transform="translate(523.2 1488.6) scale(1.1 1)" font-family="Liberation Sans" font-size="17.0" fill="#2a2a2a">0</text>
<text transform="translate(410.4 1517) scale(1.12 1)" font-family="Liberation Serif" font-size="21.7" letter-spacing="0.31" fill="#111">Time (min)</text>
<text transform="translate(34 1251) rotate(-90)" text-anchor="middle" font-family="Liberation Serif" font-size="22" letter-spacing="0.68" fill="#111">Reduction rate of SO<tspan font-size="13">2</tspan> concentration (%)</text>
<rect x="106.8" y="1022" width="173.9" height="54.3" fill="#fff"/>
<rect x="366.4" y="1176" width="48.7" height="27.1" fill="#fff"/>
<rect x="293.5" y="1228" width="137.4" height="27.3" fill="#fff"/>
<rect x="227" y="1307.5" width="151.1" height="28.9" fill="#fff"/>
<path d="M185.3 1420.43H202.7M185.3 1430.64H202.7M194 1420.43V1430.64M293.8 1393.07H311.2M293.8 1404.51H311.2M302.5 1393.07V1404.51M401.8 1365.71H419.2M401.8 1387.36H419.2M410.5 1365.71V1387.36M509.8 1338.52H520.8M509.8 1369.59H520.8M518.5 1338.52V1369.59" stroke="#00ffff" stroke-width="2.6" stroke-linecap="round" fill="none"/>
<polyline points="86,1465.35 194,1427.37 302.5,1398.79 410.5,1377.96 518.5,1354.69" stroke="#00ffff" stroke-width="2.6" fill="none" stroke-linejoin="round" stroke-linecap="round"/>
<path d="M185.3 1148.47H202.7M185.3 1150.92H202.7M194 1148.47V1150.92M293.8 1077.01H311.2M293.8 1077.83H311.2M302.5 1077.01V1077.83" stroke="#ff0000" stroke-width="2.6" stroke-linecap="round" fill="none"/>
<polyline points="86,1465.35 194,1149.7 302.5,1077.83 410.5,1057.41 518.5,1057" stroke="#ff0000" stroke-width="2.6" fill="none" stroke-linejoin="round" stroke-linecap="round"/>
<path d="M185.3 1173.79H202.7M185.3 1200.33H202.7M194 1173.79V1200.33M293.8 1092.12H311.2M293.8 1111.72H311.2M302.5 1092.12V1111.72M401.8 1056.59H419.2M401.8 1078.64H419.2M410.5 1056.59V1078.64" stroke="#00ff00" stroke-width="2.6" stroke-linecap="round" fill="none"/>
<polyline points="86,1465.35 194,1176.24 302.5,1094.98 410.5,1063.94 518.5,1057" stroke="#00ff00" stroke-width="2.6" fill="none" stroke-linejoin="round" stroke-linecap="round"/>
<path d="M185.3 1251.37H202.7M185.3 1261.17H202.7M194 1251.37V1261.17M293.8 1162.76H311.2M293.8 1168.48H311.2M302.5 1162.76V1168.48M401.8 1123.56H419.2M401.8 1128.46H419.2M410.5 1123.56V1128.46M509.8 1085.18H520.8M509.8 1097.02H520.8M518.5 1085.18V1097.02" stroke="#800000" stroke-width="2.6" stroke-linecap="round" fill="none"/>
<polyline points="86,1465.35 194,1251.37 302.5,1163.17 410.5,1120.7 518.5,1090.89" stroke="#800000" stroke-width="2.6" fill="none" stroke-linejoin="round" stroke-linecap="round"/>
<text x="110.9" y="1044.2" font-family="Liberation Serif" font-weight="bold" font-size="19" letter-spacing="1.07" fill="#ff0000">60%GFRP/clay</text>
<text x="110.9" y="1069.4" font-family="Liberation Serif" font-weight="bold" font-size="19" letter-spacing="0.9" fill="#ff0000">(Oxidatively fired)</text>
<line x1="106.8" y1="1076.3" x2="280.7" y2="1076.3" stroke="#ff7070" stroke-width="1"/>
<text transform="translate(370.8 1196.3) scale(1.08 1)" font-family="Liberation Serif" font-size="20" letter-spacing="-0.12" fill="#800000">Clay</text>
<line x1="366.4" y1="1203.1" x2="415.1" y2="1203.1" stroke="#b07878" stroke-width="1"/>
<text x="298.1" y="1248.8" font-family="Liberation Serif" font-weight="bold" font-size="19" letter-spacing="0.9" fill="#000">Bora (unfired)</text>
<line x1="293.5" y1="1255.3" x2="430.9" y2="1255.3" stroke="#707070" stroke-width="1"/>
<text x="231.2" y="1329.1" font-family="Liberation Serif" font-weight="bold" font-size="19" letter-spacing="1.11" fill="#000">Without sample</text>
<line x1="227" y1="1336.4" x2="378.1" y2="1336.4" stroke="#707070" stroke-width="1"/>
<line x1="182.5" y1="1079.2" x2="220.05" y2="1121.02" stroke="#ff0000" stroke-width="1.25"/><polygon points="225.6,1127.2 215.37,1121.2 219.65,1120.58 220.73,1116.39" fill="#ff0000"/>
<line x1="369.2" y1="1205" x2="339.37" y2="1155.22" stroke="#000" stroke-width="1.25"/><polygon points="335.1,1148.1 344,1155.94 339.68,1155.73 337.82,1159.64" fill="#000"/>
<line x1="293.5" y1="1255.3" x2="232.89" y2="1158.04" stroke="#000" stroke-width="1.25"/><polygon points="228.5,1151 237.53,1158.69 233.21,1158.55 231.42,1162.49" fill="#000"/>
<line x1="366.7" y1="1337.2" x2="394.74" y2="1369.35" stroke="#000" stroke-width="1.25"/><polygon points="400.2,1375.6 390.06,1369.45 394.35,1368.89 395.48,1364.72" fill="#000"/>
<line x1="626.6" y1="1383.68" x2="1059.1" y2="1383.68" stroke="#8a8a8a" stroke-width="1.5" stroke-dasharray="4.6 2.73" stroke-dashoffset="1"/><line x1="626.6" y1="1302.01" x2="1059.1" y2="1302.01" stroke="#8a8a8a" stroke-width="1.5" stroke-dasharray="4.6 2.73" stroke-dashoffset="1"/><line x1="626.6" y1="1220.34" x2="1059.1" y2="1220.34" stroke="#8a8a8a" stroke-width="1.5" stroke-dasharray="4.6 2.73" stroke-dashoffset="1"/><line x1="626.6" y1="1138.67" x2="1059.1" y2="1138.67" stroke="#8a8a8a" stroke-width="1.5" stroke-dasharray="4.6 2.73" stroke-dashoffset="1"/><line x1="734.5" y1="1057" x2="734.5" y2="1465.35" stroke="#333" stroke-width="1.05" stroke-dasharray="4.0 2.85"/><line x1="843" y1="1057" x2="843" y2="1465.35" stroke="#333" stroke-width="1.05" stroke-dasharray="4.0 2.85"/><line x1="951" y1="1057" x2="951" y2="1465.35" stroke="#333" stroke-width="1.05" stroke-dasharray="4.0 2.85"/>
<path d="M626.6 1424.51h7M1059.1 1424.51h-7M626.6 1383.68h7M1059.1 1383.68h-7M626.6 1342.84h7M1059.1 1342.84h-7M626.6 1302.01h7M1059.1 1302.01h-7M626.6 1261.17h7M1059.1 1261.17h-7M626.6 1220.34h7M1059.1 1220.34h-7M626.6 1179.5h7M1059.1 1179.5h-7M626.6 1138.67h7M1059.1 1138.67h-7M626.6 1097.84h7M1059.1 1097.84h-7" stroke="#3a3a3a" stroke-width="1.2" fill="none"/>
<rect x="626.6" y="1057" width="432.5" height="408.35" fill="none" stroke="#000" stroke-width="2.1"/>
<text transform="translate(607.73 1471.35) scale(1.1 1)" font-family="Liberation Sans" font-size="17.0" fill="#2a2a2a">0</text>
<text transform="translate(595.32 1389.68) scale(1.1 1)" font-family="Liberation Sans" font-size="17.0" fill="#2a2a2a">2</text><text transform="translate(607.73 1389.68) scale(1.1 1)" font-family="Liberation Sans" font-size="17.0" fill="#2a2a2a">0</text>
<text transform="translate(595.83 1308.01) scale(1.1 1)" font-family="Liberation Sans" font-size="17.0" fill="#2a2a2a">4</text><text transform="translate(607.73 1308.01) scale(1.1 1)" font-family="Liberation Sans" font-size="17.0" fill="#2a2a2a">0</text>
<text transform="translate(595.31 1226.34) scale(1.1 1)" font-family="Liberation Sans" font-size="17.0" fill="#2a2a2a">6</text><text transform="translate(607.73 1226.34) scale(1.1 1)" font-family="Liberation Sans" font-size="17.0" fill="#2a2a2a">0</text>
<text transform="translate(595.45 1144.67) scale(1.1 1)" font-family="Liberation Sans" font-size="17.0" fill="#2a2a2a">8</text><text transform="translate(607.73 1144.67) scale(1.1 1)" font-family="Liberation Sans" font-size="17.0" fill="#2a2a2a">0</text>
<path d="M592.21 1051.3V1063M592.51 1051.6L588.01 1055" stroke="#2a2a2a" stroke-width="1.6" fill="none"/><text transform="translate(595.53 1063) scale(1.1 1)" font-family="Liberation Sans" font-size="17.0" fill="#2a2a2a">0</text><text transform="translate(607.73 1063) scale(1.1 1)" font-family="Liberation Sans" font-size="17.0" fill="#2a2a2a">0</text>
<text transform="translate(621 1488.6) scale(1.1 1)" font-family="Liberation Sans" font-size="17.0" fill="#2a2a2a">0</text>
<text transform="translate(722.82 1488.6) scale(1.1 1)" font-family="Liberation Sans" font-size="17.0" fill="#2a2a2a">3</text><text transform="translate(735 1488.6) scale(1.1 1)" font-family="Liberation Sans" font-size="17.0" fill="#2a2a2a">0</text>
<text transform="translate(831.08 1488.6) scale(1.1 1)" font-family="Liberation Sans" font-size="17.0" fill="#2a2a2a">6</text><text transform="translate(843.5 1488.6) scale(1.1 1)" font-family="Liberation Sans" font-size="17.0" fill="#2a2a2a">0</text>
<text transform="translate(939.15 1488.6) scale(1.1 1)" font-family="Liberation Sans" font-size="17.0" fill="#2a2a2a">9</text><text transform="translate(951.5 1488.6) scale(1.1 1)" font-family="Liberation Sans" font-size="17.0" fill="#2a2a2a">0</text>
<path d="M1048.28 1476.9V1488.6M1048.58 1477.2L1044.08 1480.6" stroke="#2a2a2a" stroke-width="1.6" fill="none"/><text transform="translate(1051.39 1488.6) scale(1.1 1)" font-family="Liberation Sans" font-size="17.0" fill="#2a2a2a">2</text><text transform="translate(1063.8 1488.6) scale(1.1 1)" font-family="Liberation Sans" font-size="17.0" fill="#2a2a2a">0</text>
<text transform="translate(951 1517) scale(1.12 1)" font-family="Liberation Serif" font-size="21.7" letter-spacing="0.31" fill="#111">Time (min)</text>
<text transform="translate(574.6 1251) rotate(-90)" text-anchor="middle" font-family="Liberation Serif" font-size="22" letter-spacing="0.68" fill="#111">Reduction rate of SO<tspan font-size="13">2</tspan> concentration (%)</text>
<rect x="635" y="1030" width="181.8" height="53.3" fill="#fff"/>
<rect x="833.9" y="1224" width="137.8" height="29.5" fill="#fff"/>
<rect x="767.7" y="1307.5" width="151.1" height="28.9" fill="#fff"/>
<path d="M725.8 1420.43H743.2M725.8 1430.64H743.2M734.5 1420.43V1430.64M834.3 1393.07H851.7M834.3 1404.51H851.7M843 1393.07V1404.51M942.3 1365.71H959.7M942.3 1387.36H959.7M951 1365.71V1387.36M1050.4 1338.52H1061.4M1050.4 1369.59H1061.4M1059.1 1338.52V1369.59" stroke="#00ffff" stroke-width="2.6" stroke-linecap="round" fill="none"/>
<polyline points="626.6,1465.35 734.5,1427.37 843,1398.79 951,1377.96 1059.1,1354.69" stroke="#00ffff" stroke-width="2.6" fill="none" stroke-linejoin="round" stroke-linecap="round"/>
<path d="M725.8 1173.79H743.2M725.8 1200.33H743.2M734.5 1173.79V1200.33M834.3 1092.12H851.7M834.3 1111.72H851.7M843 1092.12V1111.72M942.3 1056.59H959.7M942.3 1078.64H959.7M951 1056.59V1078.64" stroke="#00ff00" stroke-width="2.6" stroke-linecap="round" fill="none"/>
<polyline points="626.6,1465.35 734.5,1176.24 843,1094.98 951,1063.94 1059.1,1057" stroke="#00ff00" stroke-width="2.6" fill="none" stroke-linejoin="round" stroke-linecap="round"/>
<path d="M725.8 1150.92H743.2M725.8 1171.34H743.2M734.5 1150.92V1171.34M834.3 1079.87H851.7M834.3 1079.87H851.7M843 1079.87V1079.87M942.3 1057H959.7M942.3 1068.03H959.7M951 1057V1068.03" stroke="#0000ff" stroke-width="2.6" stroke-linecap="round" fill="none"/>
<polyline points="626.6,1465.35 734.5,1152.96 843,1079.87 951,1065.58 1059.1,1057" stroke="#0000ff" stroke-width="2.6" fill="none" stroke-linejoin="round" stroke-linecap="round"/>
<text x="639.2" y="1051.4" font-family="Liberation Serif" font-weight="bold" font-size="19" letter-spacing="1.01" fill="#0000ff">60%GFRP/clay</text>
<text x="639.2" y="1075.7" font-family="Liberation Serif" font-weight="bold" font-size="19" letter-spacing="0.9" fill="#0000ff">(Reductively fired)</text>
<line x1="635" y1="1083.3" x2="816.8" y2="1083.3" stroke="#5050ff" stroke-width="1"/>
<text x="838.2" y="1246.3" font-family="Liberation Serif" font-weight="bold" font-size="19" letter-spacing="0.91" fill="#000">Bora (unfired)</text>
<line x1="833.9" y1="1253.5" x2="971.7" y2="1253.5" stroke="#707070" stroke-width="1"/>
<text x="772.4" y="1329.1" font-family="Liberation Serif" font-weight="bold" font-size="19" letter-spacing="1.08" fill="#000">Without sample</text>
<line x1="767.7" y1="1336.4" x2="918.8" y2="1336.4" stroke="#707070" stroke-width="1"/>
<line x1="721.7" y1="1086.6" x2="756.2" y2="1128.21" stroke="#000" stroke-width="1.25"/><polygon points="761.5,1134.6 751.52,1128.2 755.82,1127.75 757.06,1123.6" fill="#000"/>
<line x1="833.6" y1="1249" x2="773.23" y2="1161.92" stroke="#000" stroke-width="1.25"/><polygon points="768.5,1155.1 777.9,1162.34 773.57,1162.41 771.98,1166.44" fill="#000"/>
<line x1="907.1" y1="1337.2" x2="934.47" y2="1368.82" stroke="#000" stroke-width="1.25"/><polygon points="939.9,1375.1 929.78,1368.91 934.08,1368.37 935.23,1364.2" fill="#000"/>
</svg></body></html>
